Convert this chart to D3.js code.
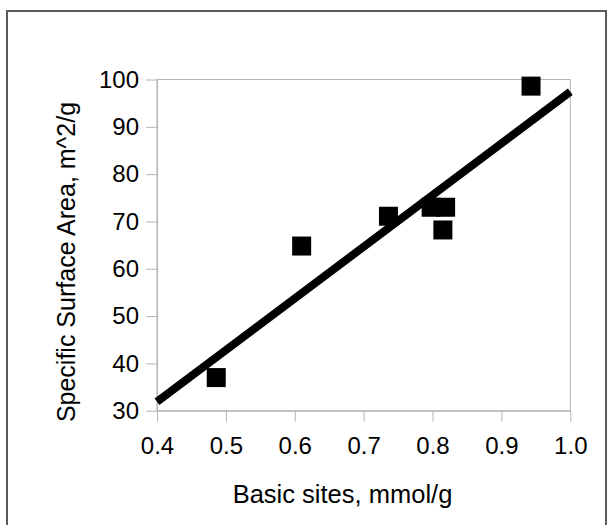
<!DOCTYPE html>
<html>
<head>
<meta charset="utf-8">
<script src="https://cdn.jsdelivr.net/npm/d3@7"></script>
<style>
  body { margin: 0; background: #fff; }
  svg { display: block; font-family: "Liberation Sans", Arial, sans-serif; }
</style>
</head>
<body>
<div id="chart"></div>
<script>
// data
const basicSites = [0.486, 0.61, 0.736, 0.798, 0.819, 0.815, 0.943]
const surfaceArea = [37.0, 64.8, 71.1, 73.0, 73.0, 68.2, 98.6]
const trendX = [0.4, 1.0]
const trendY = [31.9, 97.4]
const xTicks = [0.4, 0.5, 0.6, 0.7, 0.8, 0.9, 1.0]
const yTicks = [30, 40, 50, 60, 70, 80, 90, 100]

const width = 614, height = 525
const margin = {top: 79.5, left: 157, right: 614 - 570.3, bottom: 525 - 410.7}

const svg = d3.select("#chart").append("svg")
  .attr("width", width)
  .attr("height", height)

// outer frame
svg.append("rect")
  .attr("x", 7).attr("y", 11)
  .attr("width", 599).attr("height", 530)
  .attr("fill", "none")
  .attr("stroke", "#5a5a5a")
  .attr("stroke-width", 2)

const x = d3.scaleLinear().domain([0.4, 1.0]).range([margin.left, width - margin.right])
const y = d3.scaleLinear().domain([30, 100]).range([height - margin.bottom, margin.top])

const axisColor = "#b3b3b3"

// plot box
svg.append("rect")
  .attr("x", x(0.4)).attr("y", y(100))
  .attr("width", x(1.0) - x(0.4)).attr("height", y(30) - y(100))
  .attr("fill", "none")
  .attr("stroke", axisColor)
  .attr("stroke-width", 1)

// x axis
const xAxis = svg.append("g")
  .attr("transform", `translate(0,${y(30)})`)
  .call(d3.axisBottom(x).tickValues(xTicks).tickFormat(d3.format(".1f")).tickSize(11).tickPadding(15).tickSizeOuter(0))
xAxis.select(".domain").attr("stroke", axisColor)
xAxis.selectAll(".tick line").attr("stroke", axisColor)
xAxis.selectAll("text").attr("font-size", 24).attr("fill", "#000").attr("font-family", null)

// y axis
const yAxis = svg.append("g")
  .attr("transform", `translate(${x(0.4)},0)`)
  .call(d3.axisLeft(y).tickValues(yTicks).tickSize(11).tickPadding(7).tickSizeOuter(0))
yAxis.select(".domain").attr("stroke", axisColor)
yAxis.selectAll(".tick line").attr("stroke", axisColor)
yAxis.selectAll("text").attr("font-size", 24).attr("fill", "#000").attr("font-family", null)

// markers
const points = basicSites.map((d, i) => ({x: d, y: surfaceArea[i]}))
const size = 19
svg.append("g").selectAll("rect")
  .data(points)
  .join("rect")
  .attr("x", d => x(d.x) - size / 2)
  .attr("y", d => y(d.y) - size / 2)
  .attr("width", size)
  .attr("height", size)
  .attr("fill", "#000")

// trend line
const trend = trendX.map((d, i) => [d, trendY[i]])
svg.append("path")
  .datum(trend)
  .attr("d", d3.line().x(d => x(d[0])).y(d => y(d[1])))
  .attr("fill", "none")
  .attr("stroke", "#000")
  .attr("stroke-width", 8)

// axis titles
svg.append("text")
  .attr("x", 342.5).attr("y", 503)
  .attr("text-anchor", "middle")
  .attr("font-size", 25.5)
  .text("Basic sites, mmol/g")

svg.append("text")
  .attr("transform", "translate(75,262) rotate(-90)")
  .attr("text-anchor", "middle")
  .attr("font-size", 25)
  .text("Specific Surface Area, m^2/g")
</script>
</body>
</html>
